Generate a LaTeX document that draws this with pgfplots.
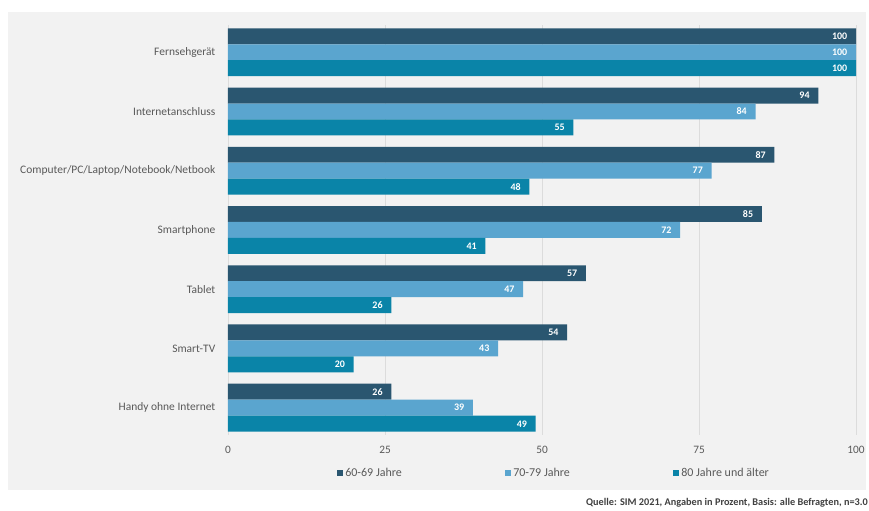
\documentclass[border=0pt]{standalone}
\usepackage{pgfplots}
\pgfplotsset{compat=1.18}
\usepackage{pgfplotstable}
\usepackage{fontspec}
\setmainfont{Carlito}
\definecolor{cdark}{HTML}{2A5670}
\definecolor{cmid}{HTML}{5AA5CF}
\definecolor{cteal}{HTML}{0A84A8}
\definecolor{panel}{HTML}{F2F2F2}
\definecolor{txt}{HTML}{595959}
\definecolor{gridc}{HTML}{DCDCDC}
\pgfplotstableread{
pos a b c
6 100 100 100
5 94 84 55
4 87 77 48
3 85 72 41
2 57 47 26
1 54 43 20
0 26 39 49
}\data
\begin{document}
\begin{tikzpicture}
\useasboundingbox (0,0) rectangle (651.75pt,383.25pt);
\fill[panel] (6pt,15.75pt) rectangle (649.5pt,374.25pt);
\begin{axis}[
  at={(171pt,57pt)}, anchor=south west,
  scale only axis, width=471pt, height=307.5pt,
  xbar, bar width=0.27, 
  xmin=0, xmax=100, ymin=-0.46, ymax=6.46,
  xtick={0,25,50,75,100},
  ytick={0,1,2,3,4,5,6},
  yticklabels={Handy ohne Internet,Smart-TV,Tablet,Smartphone,Computer/PC/Laptop/Notebook/Netbook,Internetanschluss,Fernsehgerät},
  major tick length=0pt,
  axis line style={draw=none},
  xmajorgrids, major grid style={gridc, line width=0.6pt},
  /pgf/number format/assume math mode=true,
  xticklabel style={font=\fontsize{8.5}{9}\selectfont, text=txt, yshift=-5pt},
  yticklabel style={font=\fontsize{8.6}{9}\selectfont, text=txt, xshift=-6pt},
  nodes near coords,
  every node near coord/.append style={anchor=east, xshift=-3pt, font=\bfseries\fontsize{7.5}{8}\selectfont, text=white},
  legend columns=3,
  legend style={at={(0.1736,-0.0927)}, anchor=west, draw=none, fill=none, font=\fontsize{9}{10}\selectfont, text=txt, inner sep=0pt},
  legend image code/.code={\fill[#1,draw=none] (0pt,-2pt) rectangle (4pt,2pt);},
  legend cell align=left,
]
\addplot[fill=cdark, draw=none, bar shift=0.27] table[x=a,y=pos]{\data};
\addplot[fill=cmid, draw=none, bar shift=0] table[x=b,y=pos]{\data};
\addplot[fill=cteal, draw=none, bar shift=-0.27] table[x=c,y=pos]{\data};
\legend{\makebox[118pt][l]{60-69 Jahre},\makebox[118pt][l]{70-79 Jahre},80 Jahre und älter}
\draw[gridc, line width=0.6pt] (rel axis cs:0,0) -- (rel axis cs:1,0);
\end{axis}
\node[anchor=east, inner sep=0pt, font=\bfseries\fontsize{7.7}{9}\selectfont, text=black!75] at (651pt,6pt) {Quelle: SIM 2021, Angaben in Prozent, Basis: alle Befragten, n=3.0};
\end{tikzpicture}
\end{document}
